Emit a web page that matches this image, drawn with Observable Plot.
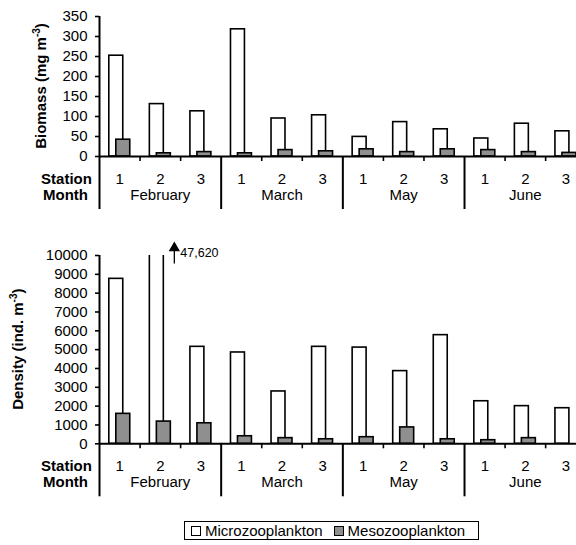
<!DOCTYPE html>
<html><head><meta charset="utf-8">
<script src="https://cdn.jsdelivr.net/npm/d3@7"></script>
<script src="https://cdn.jsdelivr.net/npm/@observablehq/plot@0.6"></script>
<style>
html,body{margin:0;padding:0;background:#fff;overflow:hidden;}
#wrap{position:relative;width:576px;height:545px;overflow:hidden;font-family:"Liberation Sans",Arial,sans-serif;}
#top{position:absolute;left:0;top:0;width:600px;}
#bot{position:absolute;left:0;top:225px;width:600px;}
#top svg,#bot svg{max-width:none !important;}
#legend{position:absolute;left:184px;top:521px;width:295px;height:19px;border:1px solid #000;box-sizing:border-box;display:flex;align-items:center;padding-left:6px;font-size:15px;color:#000;white-space:nowrap;}
#legend .sw{display:inline-block;width:8px;height:8px;border:1.5px solid #000;margin-right:4px;}
#legend .it{display:flex;align-items:center;margin-right:11px;}
</style></head>
<body><div id="wrap"><div id="top"></div><div id="bot"></div><div id="legend"></div></div>
<script>
// ---- data ----
const months = ["February", "March", "May", "June"];
const stations = ["1", "2", "3"];
const seriesNames = ["Microzooplankton", "Mesozooplankton"];
const biomassMicro = [252, 131, 113, 318, 95, 103, 49, 86, 68, 45, 82, 63];
const biomassMeso  = [42, 8, 11, 8, 16, 13, 18, 11, 18, 16, 11, 9];
const densityMicro = [8760, 47620, 5150, 4850, 2780, 5150, 5110, 3860, 5770, 2260, 2000, 1890];
const densityMeso  = [1590, 1180, 1090, 400, 300, 240, 350, 870, 240, 190, 300, 0];
const biomassTicks = [0, 50, 100, 150, 200, 250, 300, 350];
const densityTicks = [0, 1000, 2000, 3000, 4000, 5000, 6000, 7000, 8000, 9000, 10000];

// ---- styles ----
const microFill = "#ffffff", mesoFill = "#8f8f8f";
const FONT = "'Liberation Sans', Arial, sans-serif";

function buildRows(micro, meso) {
  const rows = [];
  months.forEach((m, mi) => stations.forEach((s, si) => {
    const i = mi * stations.length + si;
    rows.push({i, month: m, station: s, micro: micro[i], meso: meso[i]});
  }));
  return rows;
}

function chart({micro, meso, ticks, marginTop, height, title, titleX, yMax, note}) {
  const rows = buildRows(micro, meso);
  const n = rows.length, k = stations.length;
  const minor = d3.range(1, n).filter(v => v % k !== 0);
  const bounds = d3.range(0, n + 1, k);
  const stCenters = d3.range(n).map(v => v + 0.5);
  const moCenters = months.map((m, mi) => mi * k + k / 2);
  const marks = [
    Plot.rectY(rows, {x1: d => d.i, x2: d => d.i + 1, y1: () => 0, y2: d => Math.min(d.micro, yMax * 1.05),
      fill: microFill, stroke: "black", strokeWidth: 1.6, insetLeft: 9.8, insetRight: 16.8, clip: true}),
    Plot.rectY(rows.filter(d => d.meso > 0), {x1: d => d.i, x2: d => d.i + 1, y1: () => 0, y2: "meso",
      fill: mesoFill, stroke: "black", strokeWidth: 1.6, insetLeft: 16.8, insetRight: 9.8}),
    Plot.ruleY([0], {stroke: "black", strokeWidth: 2}),
    Plot.ruleX([0], {stroke: "black", strokeWidth: 2}),
    Plot.axisY({ticks, tickSize: 4, tickPadding: 8, strokeWidth: 1.6, label: null, fontSize: 15, tickFormat: d3.format("d")}),
    Plot.axisX({ticks: minor, tickSize: 5, tickFormat: () => "", strokeWidth: 1.6, label: null}),
    Plot.axisX({ticks: bounds, tickSize: 53, tickFormat: () => "", strokeWidth: 2, label: null}),
    Plot.axisX({ticks: stCenters, tickSize: 0, tickPadding: 16.5, tickFormat: d => stations[Math.floor(d) % k], label: null, fontSize: 15}),
    Plot.axisX({ticks: moCenters, tickSize: 0, tickPadding: 32.5, tickFormat: d => months[Math.floor(d / k)], label: null, fontSize: 15}),
    Plot.text(["Station"], {frameAnchor: "bottom-left", dx: -33, dy: 16.5, lineAnchor: "top", textAnchor: "middle", fontWeight: "bold", fontSize: 15}),
    Plot.text(["Month"], {frameAnchor: "bottom-left", dx: -34, dy: 32.5, lineAnchor: "top", textAnchor: "middle", fontWeight: "bold", fontSize: 15})
  ];
  if (note) {
    const ni = micro.findIndex(v => v > yMax);
    const nd = [{x: ni + 0.5, label: d3.format(",")(micro[ni])}];
    marks.push(
      Plot.ruleX(nd, {x: "x", y1: () => yMax * 0.955, y2: () => yMax * 1.03, dx: 14, stroke: "black", strokeWidth: 1.3}),
      Plot.dot(nd, {x: "x", y: () => yMax * 1.04, dx: 14, symbol: "triangle", r: 4.2, fill: "black", stroke: "none"}),
      Plot.text(nd, {x: "x", y: () => yMax * 1.012, dx: 20, text: "label", textAnchor: "start", fontSize: 12.5})
    );
  }
  const svg = Plot.plot({
    width: 600, height, marginLeft: 99, marginRight: 14.3, marginTop, marginBottom: 56,
    style: {fontFamily: FONT, fontSize: "15px", color: "black", background: "white", overflow: "visible", maxWidth: "none"},
    x: {type: "linear", domain: [0, n], axis: null},
    y: {domain: [0, yMax], axis: null},
    marks
  });
  // rotated y-axis title with superscript
  const frameMid = marginTop + (height - marginTop - 56) / 2;
  const t = d3.select(svg).append("text")
    .attr("transform", `translate(${titleX},${frameMid}) rotate(-90)`)
    .attr("text-anchor", "middle").attr("font-weight", "bold").attr("font-size", 15)
    .attr("font-family", FONT).attr("fill", "black");
  t.append("tspan").text(title[0]);
  t.append("tspan").attr("dy", -6).attr("font-size", 10).text(title[1]);
  t.append("tspan").attr("dy", 6).text(title[2]);
  return svg;
}

document.getElementById("top").appendChild(chart({
  micro: biomassMicro, meso: biomassMeso, ticks: biomassTicks, yMax: 350,
  marginTop: 16, height: 212, title: ["Biomass (mg m", "-3", ")"], titleX: 46
}));
document.getElementById("bot").appendChild(chart({
  micro: densityMicro, meso: densityMeso, ticks: densityTicks, yMax: 10000,
  marginTop: 30, height: 274.3, title: ["Density (ind. m", "-3", ")"], titleX: 23, note: true
}));

// legend
const lg = d3.select("#legend");
seriesNames.forEach((name, i) => {
  const it = lg.append("span").attr("class", "it");
  it.append("span").attr("class", "sw").style("background", i === 0 ? microFill : mesoFill);
  it.append("span").text(name);
});
</script>
</body></html>
